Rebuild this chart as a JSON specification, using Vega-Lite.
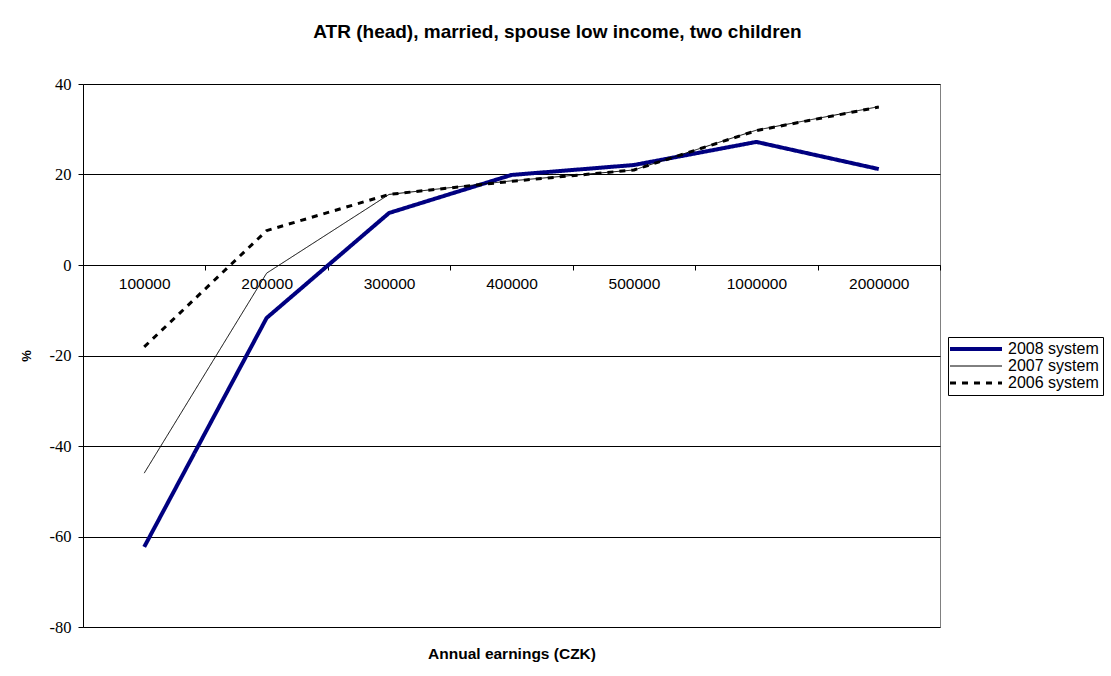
{
  "$schema": "https://vega.github.io/schema/vega-lite/v6.json",
  "width": 857,
  "height": 543,
  "autosize": "none",
  "padding": {"left": 83, "top": 84, "right": 171, "bottom": 49},
  "background": "white",
  "title": {
    "text": "ATR (head), married, spouse low income, two children",
    "font": "Liberation Sans",
    "fontSize": 19,
    "fontWeight": "bold",
    "color": "black",
    "anchor": "middle",
    "dx": 46,
    "offset": 34
  },
  "data": {
    "values": [
      {"earnings": "100000", "system": "2008 system", "atr": -62.3},
      {"earnings": "200000", "system": "2008 system", "atr": -11.7},
      {"earnings": "300000", "system": "2008 system", "atr": 11.5},
      {"earnings": "400000", "system": "2008 system", "atr": 19.9},
      {"earnings": "500000", "system": "2008 system", "atr": 22.1},
      {"earnings": "1000000", "system": "2008 system", "atr": 27.2},
      {"earnings": "2000000", "system": "2008 system", "atr": 21.2},
      {"earnings": "100000", "system": "2007 system", "atr": -46.0},
      {"earnings": "200000", "system": "2007 system", "atr": -1.8},
      {"earnings": "300000", "system": "2007 system", "atr": 15.6},
      {"earnings": "400000", "system": "2007 system", "atr": 18.6},
      {"earnings": "500000", "system": "2007 system", "atr": 21.0},
      {"earnings": "1000000", "system": "2007 system", "atr": 29.8},
      {"earnings": "2000000", "system": "2007 system", "atr": 35.0},
      {"earnings": "100000", "system": "2006 system", "atr": -18.1},
      {"earnings": "200000", "system": "2006 system", "atr": 7.6},
      {"earnings": "300000", "system": "2006 system", "atr": 15.6},
      {"earnings": "400000", "system": "2006 system", "atr": 18.5},
      {"earnings": "500000", "system": "2006 system", "atr": 21.0},
      {"earnings": "1000000", "system": "2006 system", "atr": 29.7},
      {"earnings": "2000000", "system": "2006 system", "atr": 34.9}
    ]
  },
  "mark": {"type": "line", "strokeJoin": "round"},
  "encoding": {
    "x": {
      "field": "earnings",
      "type": "ordinal",
      "sort": ["100000", "200000", "300000", "400000", "500000", "1000000", "2000000"],
      "bandPosition": 0.5,
      "scale": {"type": "band", "paddingInner": 0, "paddingOuter": 0},
      "axis": {
        "orient": "bottom",
        "offset": -362,
        "title": "Annual earnings (CZK)",
        "titleFont": "Liberation Sans",
        "titleFontSize": 15.5,
        "titleFontWeight": "bold",
        "titleColor": "black",
        "titleY": 388,
        "titleBaseline": "middle",
        "labelFont": "Liberation Sans",
        "labelFontSize": 15.5,
        "labelColor": "black",
        "labelAngle": 0,
        "labelPadding": 6,
        "tickBand": "extent",
        "tickSize": 5,
        "tickColor": "black",
        "domainColor": "black",
        "grid": false
      }
    },
    "y": {
      "field": "atr",
      "type": "quantitative",
      "scale": {"domain": [-80, 40], "nice": false, "zero": false},
      "axis": {
        "values": [-80, -60, -40, -20, 0, 20, 40],
        "labelExpr": "datum.value < 0 ? '-' + abs(datum.value) : '' + datum.value",
        "title": "%",
        "titleFont": "Liberation Sans",
        "titleFontSize": 13,
        "titleFontWeight": "bold",
        "titleColor": "black",
        "titleX": -50,
        "titleAngle": -90,
        "labelFont": "serif",
        "labelFontSize": 16.5,
        "labelColor": "black",
        "labelPadding": 7,
        "tickSize": 5,
        "tickColor": "black",
        "domainColor": "black",
        "grid": true,
        "gridColor": "black",
        "gridWidth": 1
      }
    },
    "color": {
      "field": "system",
      "type": "nominal",
      "sort": ["2008 system", "2007 system", "2006 system"],
      "scale": {"domain": ["2008 system", "2007 system", "2006 system"], "range": ["#000080", "black", "black"]},
      "legend": {
        "title": null,
        "orient": "none",
        "legendX": 865,
        "legendY": 253,
        "symbolType": "M-1,0H4.2",
        "symbolSize": 400,
        "labelFont": "Liberation Sans",
        "labelFontSize": 16,
        "labelColor": "black",
        "labelOffset": 40,
        "rowPadding": 1,
        "strokeColor": "black",
        "padding": 4,
        "fillColor": "white",
        "encode": {
          "symbols": {
            "update": {
              "strokeWidth": {"signal": "datum.value === '2008 system' ? 4 : datum.value === '2006 system' ? 3 : 1"},
              "strokeDash": {"signal": "datum.value === '2006 system' ? [8, 6] : [1, 0]"}
            }
          }
        }
      }
    },
    "strokeWidth": {
      "condition": [
        {"test": "datum.system === '2008 system'", "value": 4},
        {"test": "datum.system === '2006 system'", "value": 3}
      ],
      "value": 1
    },
    "strokeDash": {
      "field": "system",
      "type": "nominal",
      "scale": {"domain": ["2008 system", "2007 system", "2006 system"], "range": [[1, 0], [1, 0], [6, 6]]},
      "legend": null
    }
  },
  "config": {
    "view": {"stroke": "#808080", "strokeWidth": 1}
  }
}
